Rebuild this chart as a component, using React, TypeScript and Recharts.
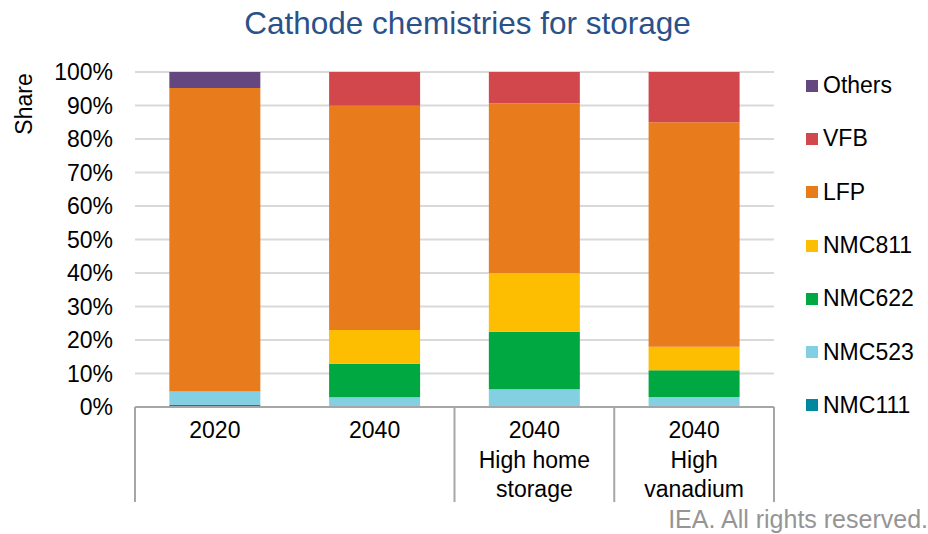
import React from 'react';
import {
    BarChart,
    Bar,
    XAxis,
    YAxis,
    CartesianGrid,
    Legend
} from 'recharts';

// chart values (shares in %)
const CATEGORIES = ['2020', '2040', '2040 High home storage', '2040 High vanadium'];
const CATEGORY_LINES = [['2020'], ['2040'], ['2040', 'High home', 'storage'], ['2040', 'High', 'vanadium']];
// separator drawn on the left side of these categories (2020 and 2040 share a group)
const GROUP_STARTS = [0, 2, 3];
const NMC111 = [0.6, 0, 0, 0];
const NMC523 = [4.0, 2.9, 5.3, 3];
const NMC622 = [0, 10, 17.2, 8];
const NMC811 = [0, 10.1, 17.5, 7];
const LFP = [90.6, 66.9, 50.7, 67];
const VFB = [0, 10.1, 9.3, 15];
const OTHERS = [4.8, 0, 0, 0];
const Y_TICKS = [0, 10, 20, 30, 40, 50, 60, 70, 80, 90, 100];

const SERIES = [
    { key: 'NMC111', values: NMC111, color: '#00889e' },
    { key: 'NMC523', values: NMC523, color: '#83d0e2' },
    { key: 'NMC622', values: NMC622, color: '#00a841' },
    { key: 'NMC811', values: NMC811, color: '#fdbd00' },
    { key: 'LFP', values: LFP, color: '#e87b1b' },
    { key: 'VFB', values: VFB, color: '#d1474c' },
    { key: 'Others', values: OTHERS, color: '#65477f' }
];

const data = CATEGORIES.map((name, i) => {
    const row: any = { name };
    SERIES.forEach(s => { row[s.key] = s.values[i]; });
    return row;
});

const W = 928;
const H = 534;
const Y_AXIS_W = 135;
const RIGHT = 154;
const X_AXIS_H = 127;
const BAND = (W - Y_AXIS_W - RIGHT) / CATEGORIES.length;
const FONT = '"Liberation Sans", Arial, sans-serif';
const AXIS_GREY = '#a6a6a6';

const CategoryTick = (props: any) => {
    const { x, y, payload, index } = props;
    const lines: string[] = CATEGORY_LINES[index] || [String(payload.value)];
    const isLast = index === CATEGORIES.length - 1;
    return (
        <g>
            {GROUP_STARTS.includes(index) && (
                <line x1={x - BAND / 2} x2={x - BAND / 2} y1={y} y2={y + 95} stroke={AXIS_GREY} strokeWidth={2} />
            )}
            {isLast && (
                <line x1={x + BAND / 2} x2={x + BAND / 2} y1={y} y2={y + 95} stroke={AXIS_GREY} strokeWidth={2} />
            )}
            {lines.map((l, i) => (
                <text key={i} x={x} y={y + 31 + i * 29.5} textAnchor="middle" fontSize={23} fill="#000" fontFamily={FONT}>
                    {l}
                </text>
            ))}
        </g>
    );
};

const LegendBox = () => (
    <div style={{ fontFamily: FONT }}>
        {[...SERIES].reverse().map(s => (
            <div key={s.key} style={{ height: 53.3, display: 'flex', alignItems: 'center' }}>
                <span style={{ width: 12, height: 12, background: s.color, marginRight: 5, display: 'inline-block' }} />
                <span style={{ fontSize: 23, color: '#000' }}>{s.key}</span>
            </div>
        ))}
    </div>
);

export default function App() {
    return (
        <div style={{ position: 'relative', width: W, height: H, fontFamily: FONT, background: '#fff' }}>
            <style>{'body{margin:0}'}</style>
            <div style={{ position: 'absolute', left: 0, top: 3, width: 935, textAlign: 'center', fontSize: 31.5, lineHeight: '40px', color: '#2b5189' }}>
                Cathode chemistries for storage
            </div>
            <div style={{ position: 'absolute', left: 24, top: 104, transform: 'translate(-50%, -50%) rotate(-90deg)', fontSize: 23, color: '#000', whiteSpace: 'nowrap' }}>
                Share
            </div>
            <BarChart width={W} height={H} data={data} margin={{ top: 72, right: RIGHT, bottom: 0, left: 0 }} barCategoryGap="21.5%">
                <CartesianGrid vertical={false} stroke="#d9d9d9" strokeWidth={2} />
                <XAxis
                    dataKey="name"
                    height={X_AXIS_H}
                    interval={0}
                    tickLine={false}
                    tickSize={0}
                    tickMargin={0}
                    axisLine={{ stroke: AXIS_GREY, strokeWidth: 2 }}
                    tick={<CategoryTick />}
                />
                <YAxis
                    width={Y_AXIS_W}
                    domain={[0, 100]}
                    ticks={Y_TICKS}
                    tickFormatter={(v: number) => `${v}%`}
                    axisLine={false}
                    tickLine={false}
                    tickSize={0}
                    tickMargin={22}
                    tick={{ fill: '#000', fontSize: 23, fontFamily: FONT }}
                />
                <Legend
                    layout="vertical"
                    align="center"
                    verticalAlign="middle"
                    content={() => <LegendBox />}
                    wrapperStyle={{ left: 806, top: 59, width: 122, height: 374 }}
                />
                {SERIES.map(s => (
                    <Bar key={s.key} dataKey={s.key} stackId="a" fill={s.color} isAnimationActive={false} />
                ))}
            </BarChart>
            <div style={{ position: 'absolute', right: 0, top: 504, fontSize: 25, lineHeight: '30px', color: '#959595', whiteSpace: 'nowrap' }}>
                IEA. All rights reserved.
            </div>
        </div>
    );
}
